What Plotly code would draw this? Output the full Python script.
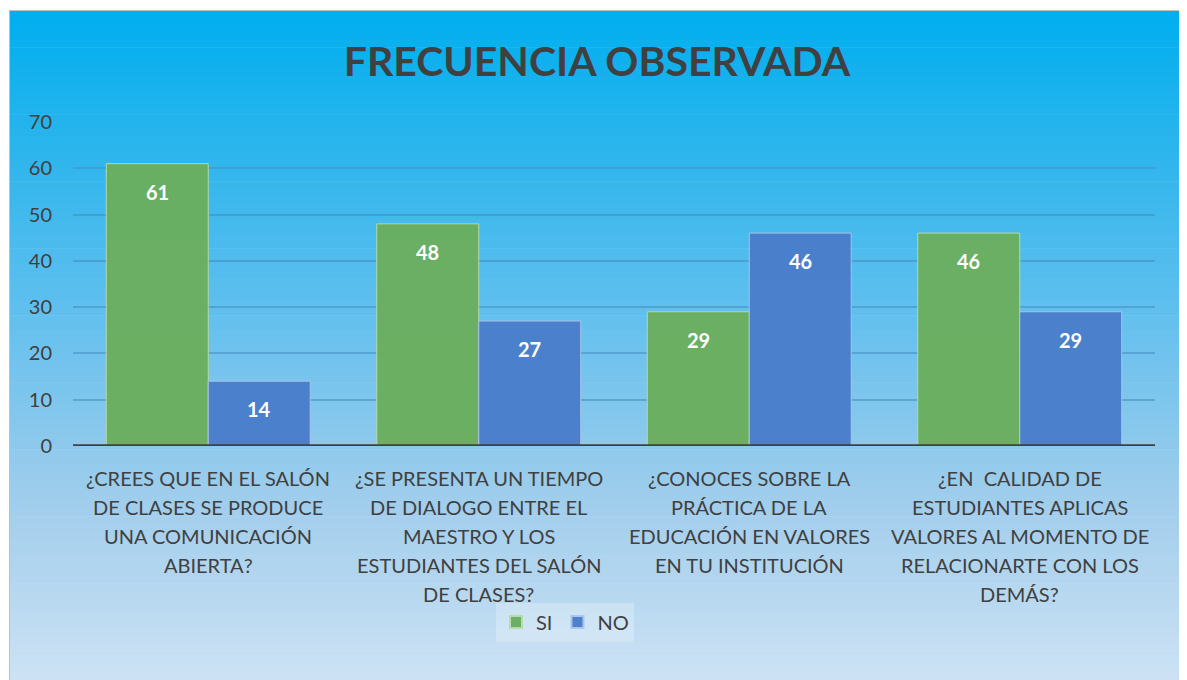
import plotly.graph_objects as go

categories = [
    "¿CREES QUE EN EL SALÓN<br>DE CLASES SE PRODUCE<br>UNA COMUNICACIÓN<br>ABIERTA?",
    "¿SE PRESENTA UN TIEMPO<br>DE DIALOGO ENTRE EL<br>MAESTRO Y LOS<br>ESTUDIANTES DEL SALÓN<br>DE CLASES?",
    "¿CONOCES SOBRE LA<br>PRÁCTICA DE LA<br>EDUCACIÓN EN VALORES<br>EN TU INSTITUCIÓN",
    "¿EN  CALIDAD DE<br>ESTUDIANTES APLICAS<br>VALORES AL MOMENTO DE<br>RELACIONARTE CON LOS<br>DEMÁS?",
]
si_values = [61, 48, 29, 46]
no_values = [14, 27, 46, 29]
y_ticks = [0, 10, 20, 30, 40, 50, 60, 70]

OFF = 8  # page body margin
W, H = 1187 - OFF, 680 - OFF
L, R, T, B = 73 - OFF, 1155 - OFF, 122 - OFF, 446 - OFF

def px_x(p):
    return (p - OFF - L) / (R - L)

def px_y(p):
    return (B - (p - OFF)) / (B - T)

BARGAP = 0.246
fig = go.Figure()
fig.add_bar(name="SI", x=categories, y=si_values,
            marker=dict(color="#6BAF5F", line=dict(color="#B5DCA8", width=1)))
fig.add_bar(name="NO", x=categories, y=no_values,
            marker=dict(color="#4A7ECB", line=dict(color="#A9C4EA", width=1)))
fig.update_traces(opacity=0.97)

annotations = []
half = (1 - BARGAP) / 4
for i, cat in enumerate(categories):
    for vals, dx in ((si_values, -half), (no_values, half)):
        annotations.append(dict(x=i + dx, y=vals[i], xref="x", yref="y",
                                text="<b>%d</b>" % vals[i], showarrow=False,
                                yanchor="middle", yshift=-28,
                                font=dict(color="white", size=20, family="Lato")))
    for j, line in enumerate(cat.split("<br>")):
        annotations.append(dict(x=i, y=px_y(478 + 29 * j), xref="x", yref="paper",
                                text=line, showarrow=False, yanchor="middle",
                                font=dict(color="#404040", size=20, family="Lato")))

# gradient background strips
stops = [(10, (0, 174, 239)), (150, (44, 181, 237)), (320, (100, 192, 238)),
         (500, (160, 205, 236)), (680, (205, 226, 244))]
def col(y):
    for (y0, c0), (y1, c1) in zip(stops, stops[1:]):
        if y0 <= y <= y1:
            t = (y - y0) / (y1 - y0)
            return "rgb(%d,%d,%d)" % tuple(round(a + (b - a) * t) for a, b in zip(c0, c1))
    return "rgb(%d,%d,%d)" % stops[-1][1]

shapes = []
N = 90
for i in range(N):
    y0 = 10 + (680 - 10) * i / N
    y1 = 10 + (680 - 10) * (i + 1) / N
    shapes.append(dict(type="rect", xref="paper", yref="paper", layer="below",
                       x0=px_x(9), x1=px_x(1182), y0=px_y(y0), y1=px_y(y1 + 0.6),
                       line=dict(width=0), fillcolor=col((y0 + y1) / 2)))
shapes.append(dict(type="rect", xref="paper", yref="paper", layer="below",
                   x0=px_x(9.5), x1=px_x(1181.5), y0=px_y(10.5), y1=px_y(681),
                   line=dict(color="#BFBFBF", width=1), fillcolor="rgba(0,0,0,0)"))
shapes.append(dict(type="line", xref="paper", yref="y", x0=0, x1=1, y0=0, y1=0,
                   line=dict(color="#404040", width=3.5)))

fig.update_layout(
    width=W, height=H,
    margin=dict(l=L, r=W - R, t=T, b=H - B),
    paper_bgcolor="white", plot_bgcolor="rgba(0,0,0,0)",
    barmode="group", bargap=BARGAP, bargroupgap=0,
    shapes=shapes, annotations=annotations,
    title=dict(text="<b>FRECUENCIA OBSERVADA</b>", x=px_x(597), xanchor="center",
               xref="paper", y=1 - (62 - OFF) / H, yanchor="middle",
               font=dict(family="Lato", size=41, color="#404040")),
    font=dict(family="Lato", color="#404040"),
    xaxis=dict(showgrid=False, showline=False, ticks="", showticklabels=False,
               range=[-0.5, len(categories) - 0.5]),
    yaxis=dict(range=[0, 70], tickvals=y_ticks, showgrid=True,
               gridcolor="rgba(70,140,190,0.55)", gridwidth=1.5, zeroline=False,
               showline=False, ticks="", tickfont=dict(size=20, color="#404040"),
               ticklabelstandoff=20),
    legend=dict(orientation="h", x=px_x(565), xanchor="center", y=px_y(622),
                yanchor="middle", bgcolor="rgba(255,255,255,0.25)",
                font=dict(size=20, color="#404040"), itemsizing="constant"),
    showlegend=True,
)
fig.write_html("out.html")
